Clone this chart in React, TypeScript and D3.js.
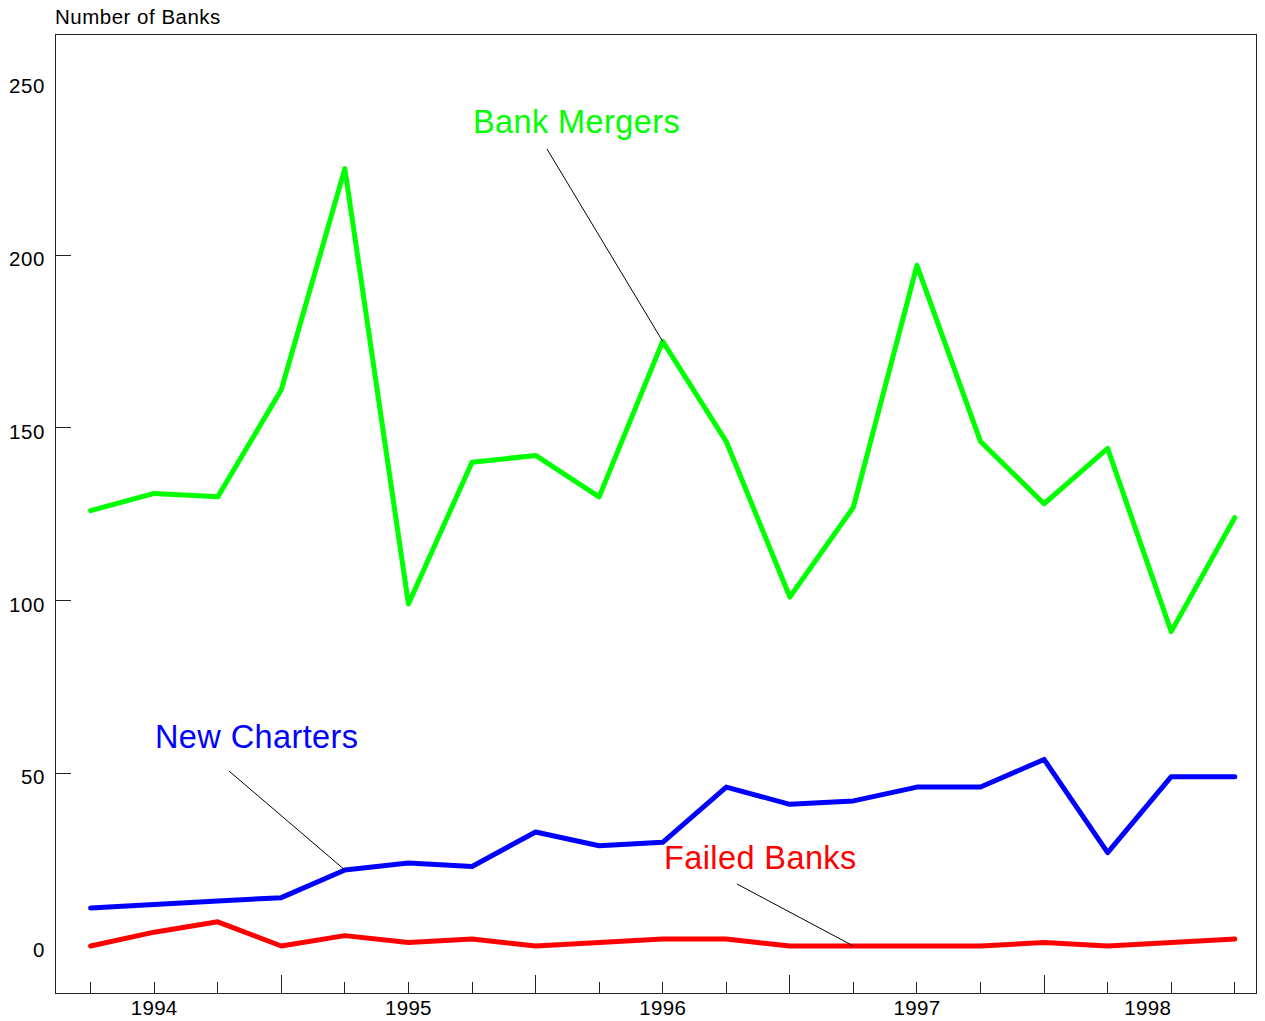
import React from "react";
import * as d3 from "d3";

const quarters = d3.range(19); // Q4 1993 ... Q2 1998 (index positions)
const bankMergers = [126, 131, 130, 161, 225, 99, 140, 142, 130, 175, 146, 101, 127, 197, 146, 128, 144, 91, 124];
const newCharters = [11, 12, 13, 14, 22, 24, 23, 33, 29, 30, 46, 41, 42, 46, 46, 54, 27, 49, 49];
const failedBanks = [0, 4, 7, 0, 3, 1, 2, 0, 1, 2, 2, 0, 0, 0, 0, 1, 0, 1, 2];
const yTickValues = [0, 50, 100, 150, 200, 250];
const yTickMarks = [50, 100, 150, 200];
const yearLabels = ["1994", "1995", "1996", "1997", "1998"];
const yearLabelPos = [1, 5, 9, 13, 16.63];
const majorTickIdx = [3, 7, 11, 15];

const W = 1265;
const H = 1021;
const frame = { left: 55, right: 1256, top: 34, bottom: 993 };

export default function App() {
  const x = d3.scaleLinear().domain([0, 18]).range([90.6, 1234.8]);
  const y = d3.scaleLinear().domain([0, 200]).range([946, 255]);

  const line = d3
    .line<number>()
    .x((_, i) => x(quarters[i]))
    .y((d) => y(d));

  const series = [
    { name: "Bank Mergers", values: bankMergers, color: "#00ff00" },
    { name: "New Charters", values: newCharters, color: "#0000ff" },
    { name: "Failed Banks", values: failedBanks, color: "#ff0000" },
  ];

  const annotations = [
    { text: "Bank Mergers", color: "#00ff00", tx: 473, ty: 133, lx: 547, ly: 149, idx: 9, values: bankMergers },
    { text: "New Charters", color: "#0000ff", tx: 155, ty: 748, lx: 229, ly: 771, idx: 4, values: newCharters },
    { text: "Failed Banks", color: "#ff0000", tx: 664, ty: 869, lx: 737, ly: 884, idx: 12, values: failedBanks },
  ];

  const font = "'Liberation Sans', Arial, Helvetica, sans-serif";

  return (
    <svg
      width={W}
      height={H}
      style={{ position: "absolute", left: 0, top: 0, display: "block", background: "#fff" }}
      fontFamily={font}
    >
      <rect x={0} y={0} width={W} height={H} fill="#fff" />
      <text x={55} y={24} fontSize={20.5} fill="#000" letterSpacing={0.5}>
        Number of Banks
      </text>
      <rect
        x={frame.left}
        y={frame.top}
        width={frame.right - frame.left}
        height={frame.bottom - frame.top}
        fill="none"
        stroke="#222"
        strokeWidth={1}
        shapeRendering="crispEdges"
      />
      {yTickMarks.map((v) => (
        <line
          key={"yt" + v}
          x1={frame.left}
          x2={frame.left + 16}
          y1={y(v)}
          y2={y(v)}
          stroke="#222"
          strokeWidth={1}
          shapeRendering="crispEdges"
        />
      ))}
      {yTickValues.map((v) => (
        <text key={"yl" + v} x={45} y={y(v) + 11} fontSize={20.5} textAnchor="end" fill="#000" letterSpacing={0.6}>
          {v}
        </text>
      ))}
      {quarters.map((q) => {
        const major = majorTickIdx.includes(q);
        return (
          <line
            key={"xt" + q}
            x1={x(q)}
            x2={x(q)}
            y1={frame.bottom}
            y2={frame.bottom - (major ? 18 : 11)}
            stroke="#222"
            strokeWidth={1}
            shapeRendering="crispEdges"
          />
        );
      })}
      {yearLabels.map((lab, i) => (
        <text key={lab} x={x(yearLabelPos[i])} y={1015} fontSize={20.5} textAnchor="middle" fill="#000" letterSpacing={0.3}>
          {lab}
        </text>
      ))}
      {series.map((s) => (
        <path
          key={s.name}
          d={line(s.values) || ""}
          fill="none"
          stroke={s.color}
          strokeWidth={5}
          strokeLinejoin="round"
          strokeLinecap="round"
        />
      ))}
      {annotations.map((a) => (
        <g key={a.text}>
          <line
            x1={a.lx}
            y1={a.ly}
            x2={x(a.idx)}
            y2={y(a.values[a.idx])}
            stroke="#000"
            strokeWidth={1}
          />
          <text x={a.tx} y={a.ty} fontSize={32.5} fill={a.color} letterSpacing={0.4}>
            {a.text}
          </text>
        </g>
      ))}
    </svg>
  );
}
